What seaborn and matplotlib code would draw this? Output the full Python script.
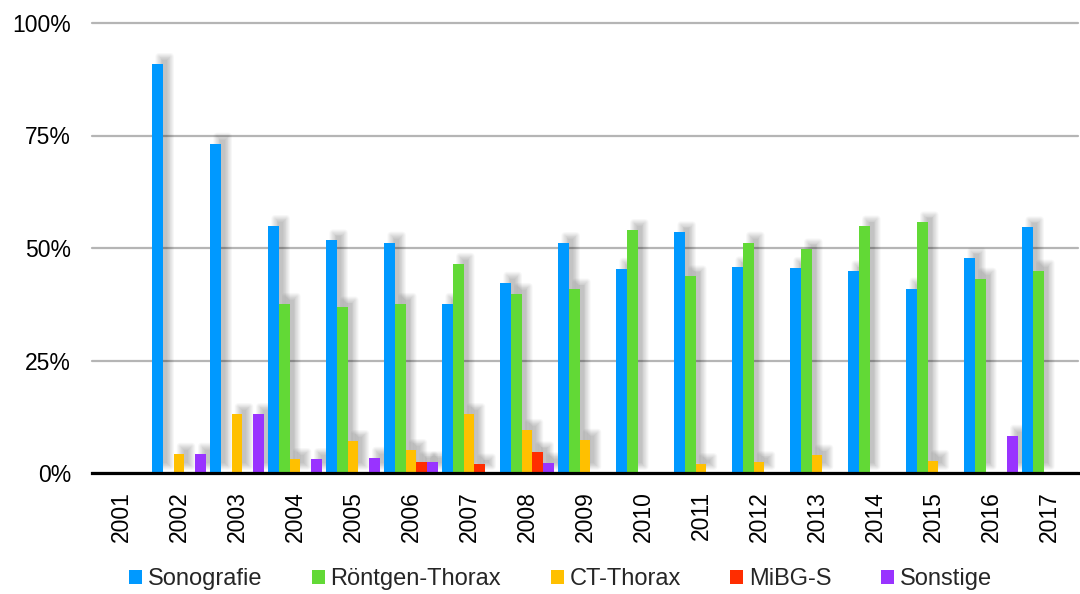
import numpy as np
import pandas as pd
import matplotlib
matplotlib.use("Agg")
import matplotlib.pyplot as plt
import matplotlib.transforms as mtransforms
from matplotlib.patches import Rectangle, Patch, FancyBboxPatch
import seaborn as sns

# ---- data -------------------------------------------------------------
years = ["2001", "2002", "2003", "2004", "2005", "2006", "2007", "2008", "2009",
         "2010", "2011", "2012", "2013", "2014", "2015", "2016", "2017"]
methods = ["Sonografie", "Röntgen-Thorax", "CT-Thorax", "MiBG-S", "Sonstige"]

sonografie = [0, 90.9, 73.2, 54.9, 51.7, 51.2, 37.6, 42.3, 51.1,
              45.4, 53.5, 45.7, 45.6, 44.8, 41.0, 47.7, 54.6]
roentgen = [0, 0, 0, 37.6, 36.8, 37.6, 46.5, 39.8, 40.8,
            54.0, 43.7, 51.2, 49.7, 54.8, 55.7, 43.2, 45.0]
ct_thorax = [0, 4.3, 13.1, 3.1, 7.1, 5.1, 13.1, 9.6, 7.4,
             0, 2.0, 2.4, 3.9, 0, 2.7, 0, 0]
mibg = [0, 0, 0, 0, 0, 2.4, 1.9, 4.6, 0,
        0, 0, 0, 0, 0, 0, 0, 0]
sonstige = [0, 4.3, 13.1, 3.1, 3.4, 2.4, 0, 2.2, 0,
            0, 0, 0, 0, 0, 0, 8.3, 0]

colors = ["#0099FF", "#62D936", "#FFC000", "#FF2D00", "#9933FF"]
y_ticks = [0, 25, 50, 75, 100]
y_tick_labels = ["0%", "25%", "50%", "75%", "100%"]

series = [sonografie, roentgen, ct_thorax, mibg, sonstige]
df = pd.DataFrame(
    [(y, m, v) for m, vals in zip(methods, series) for y, v in zip(years, vals)],
    columns=["Jahr", "Methode", "Anteil"],
)

# ---- styling ----------------------------------------------------------
sns.set_style("white")
plt.rcParams["font.family"] = ["Liberation Sans", "DejaVu Sans"]

fig = plt.figure(figsize=(10.8, 5.94), dpi=100)
ax = fig.add_axes([92 / 1080, 121 / 594, 986 / 1080, 450 / 594])

sns.barplot(
    data=df, x="Jahr", y="Anteil", hue="Methode",
    order=years, hue_order=methods, palette=colors,
    width=0.92, gap=0, saturation=1, linewidth=0,
    errorbar=None, legend=False, ax=ax, zorder=3,
)

# ---- axes -------------------------------------------------------------
ax.set_xlim(-0.5, len(years) - 0.5)
ax.set_ylim(0, 100)
ax.set_yticks(y_ticks)
ax.set_yticklabels(y_tick_labels)
ax.set_xlabel("")
ax.set_ylabel("")

ax.yaxis.grid(True, color="#b5b5b5", linewidth=1.6, zorder=1)
ax.set_axisbelow(True)
for gl in ax.get_ygridlines():
    gl.set_clip_on(False)

for side in ["top", "left", "right"]:
    ax.spines[side].set_visible(False)
ax.spines["bottom"].set_color("black")
ax.spines["bottom"].set_linewidth(2.3)
ax.spines["bottom"].set_zorder(5)

ax.tick_params(axis="y", length=0, pad=15, labelsize=16.5, labelcolor="black")
ax.tick_params(axis="x", which="major", length=0, pad=13, labelsize=16.5,
               labelrotation=90, labelcolor="black")
ax.set_xticks(np.arange(-0.5, len(years)), minor=True)
ax.tick_params(axis="x", which="minor", direction="inout", length=9.5,
               width=2.2, color="black")

# ---- soft drop shadows: stacked translucent rounded copies of each bar,
# shifted up and to the right and growing outward to fake a blur ----------
shift_px = 7.0
spreads = np.linspace(-3.0, 4.0, 9)
layer_alpha = 0.027
px = mtransforms.IdentityTransform()
bars = [p for p in ax.patches if isinstance(p, Rectangle) and p.get_height() > 0]
for bar in bars:
    bb = bar.get_window_extent()
    x0, y0 = bb.x0 + shift_px, bb.y0 + shift_px
    w, h = bb.width, bb.height
    for d in spreads:
        if d > 0:
            shape = FancyBboxPatch((x0, y0), w, h,
                                   boxstyle=f"round,pad={d},rounding_size={d}",
                                   transform=px, facecolor=(0, 0, 0, layer_alpha),
                                   edgecolor="none", zorder=2, mutation_scale=1)
        else:
            shape = Rectangle((x0 - d, y0 - d), w + 2 * d, h + 2 * d,
                              transform=px, facecolor=(0, 0, 0, layer_alpha),
                              edgecolor="none", zorder=2)
        ax.add_patch(shape)

handles = [Patch(facecolor=c, edgecolor="none", label=m) for c, m in zip(colors, methods)]
fig.legend(handles=handles, loc="center", bbox_to_anchor=(0.519, 0.025),
           ncol=5, frameon=False, fontsize=17, handlelength=0.54,
           handleheight=0.54, handletextpad=0.25, columnspacing=2.1,
           borderaxespad=0, borderpad=0)

fig.savefig("out.png", dpi=100, facecolor="white")
